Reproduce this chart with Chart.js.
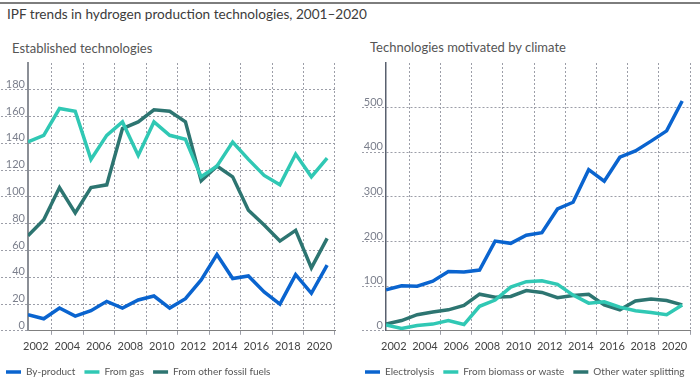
<!DOCTYPE html>
<html>
<head>
<meta charset="utf-8">
<script src="https://cdn.jsdelivr.net/npm/chart.js@4"></script>
<style>
  body { margin: 0; width: 700px; height: 389px; background: #fff; font-family: Lato, sans-serif; position: relative; overflow: hidden; }
  .rule { position: absolute; left: 0; top: 2px; width: 700px; height: 2px; background: #7d7d7d; }
  .title { position: absolute; left: 7px; top: 6px; font-size: 13.6px; color: #3c3c3c; }
  .sub { position: absolute; font-size: 13px; color: #555; }
  .box { position: absolute; }
</style>
</head>
<body>
<div class="rule"></div>
<div class="title">IPF trends in hydrogen production technologies, 2001–2020</div>
<div class="sub" style="left:12px; top:40px">Established technologies</div>
<div class="sub" style="left:370px; top:39px">Technologies motivated by climate</div>
<div class="box" style="left:-3px; top:58px; width:348px; height:331px"><canvas id="left"></canvas></div>
<div class="box" style="left:356px; top:58px; width:344px; height:331px"><canvas id="right"></canvas></div>
<script>
// 데이터
const years = [2001, 2002, 2003, 2004, 2005, 2006, 2007, 2008, 2009, 2010,
  2011, 2012, 2013, 2014, 2015, 2016, 2017, 2018, 2019, 2020]
const yearLabels = ['2002', '2004', '2006', '2008', '2010', '2012', '2014', '2016', '2018', '2020']

// 왼쪽: Established technologies
const byProduct = [12, 9, 17, 11, 15, 22, 17, 23, 26, 17, 24, 38, 57, 39, 41, 29, 20, 42, 28, 49]
const fromGas = [141, 146, 166, 164, 128, 146, 156, 131, 156, 146, 143, 115, 123, 141, 128, 116, 109, 132, 115, 129]
const otherFossil = [71, 83, 107, 88, 107, 109, 151, 156, 165, 164, 156, 112, 123, 115, 90, 79, 67, 75, 47, 69]
const leftTicks = [0, 20, 40, 60, 80, 100, 120, 140, 160, 180]

// 오른쪽: Technologies motivated by climate
const electrolysis = [92, 101, 100, 111, 133, 132, 136, 201, 196, 214, 220, 273, 288, 361, 335, 389, 403, 425, 448, 515]
const biomass = [13, 5, 12, 15, 23, 14, 55, 69, 98, 110, 112, 104, 80, 62, 65, 53, 45, 41, 36, 58]
const waterSplit = [15, 23, 36, 42, 47, 57, 82, 75, 77, 90, 86, 74, 79, 82, 58, 47, 67, 71, 68, 58]
const rightTicks = [0, 100, 200, 300, 400, 500]

const BLUE = '#0a64cf'
const TURQ = '#30c8b4'
const TEAL = '#2d7571'
const GRID = '#9c9ea8'

function line(label, data, color) {
  return {
    label: label,
    data: data,
    borderColor: color,
    backgroundColor: color,
    borderWidth: 3.5,
    pointRadius: 0,
    tension: 0,
    fill: false,
  }
}

// 두 차트 공통 옵션
function makeOptions(yMax, yStep, tickList, axisWidth, tickLen, axisColor, axisLine) {
  return {
    responsive: true,
    maintainAspectRatio: false,
    animation: false,
    layout: { padding: { top: 5, right: 0, bottom: 2 } },
    plugins: {
      tooltip: { enabled: false },
      legend: {
        position: 'bottom',
        align: 'start',
        labels: {
          usePointStyle: true,
          pointStyle: 'line',
          pointStyleWidth: 15,
          color: '#555',
          font: { family: 'Lato', size: 10 },
          padding: 9,
        }
      }
    },
    scales: {
      x: {
        type: 'linear',
        min: 2001,
        max: 2020.5,
        afterBuildTicks: scale => {
          scale.ticks = yearLabels.map(l => ({ value: Number(l) - 0.5 }))
        },
        afterFit: scale => {
          // 오른쪽 여백은 축에서만 (범례 폭은 그대로)
          scale.paddingRight = 10
        },
        ticks: {
          autoSkip: false,
          maxRotation: 0,
          color: '#444',
          font: { family: 'Lato', size: 11 },
          padding: 5,
          callback: (v, i) => yearLabels[i],
        },
        grid: { offset: true, color: GRID, tickLength: 4, tickColor: GRID },
        border: { color: '#808080', width: 1, dash: [2, 2] },
      },
      y: {
        min: 0,
        max: yMax,
        afterFit: scale => {
          scale.width = axisWidth
          scale.paddingTop = 0
          scale.paddingBottom = 0
        },
        ticks: {
          stepSize: yStep,
          align: 'end',
          padding: -tickLen + 3,
          color: '#7b7f8c',
          font: { family: 'Lato', size: 11 },
          callback: v => tickList.includes(v) ? v : null,
        },
        grid: { color: GRID, tickLength: tickLen, tickColor: GRID, tickBorderDash: [2, 2] },
        border: { color: axisColor, width: axisLine, dash: [2, 2] },
      }
    }
  }
}

new Chart(document.querySelector('#left'), {
  type: 'line',
  data: {
    labels: years,
    datasets: [
      line('By-product', byProduct, BLUE),
      line('From gas', fromGas, TURQ),
      line('From other fossil fuels', otherFossil, TEAL),
    ]
  },
  options: makeOptions(200, 20, leftTicks, 31, 31, '#8b8f96', 2)
})

new Chart(document.querySelector('#right'), {
  type: 'line',
  data: {
    labels: years,
    datasets: [
      line('Electrolysis', electrolysis, BLUE),
      line('From biomass or waste', biomass, TURQ),
      line('Other water splitting', waterSplit, TEAL),
    ]
  },
  options: makeOptions(600, 100, rightTicks, 30, 24, '#59606e', 1.5)
})
</script>
</body>
</html>
